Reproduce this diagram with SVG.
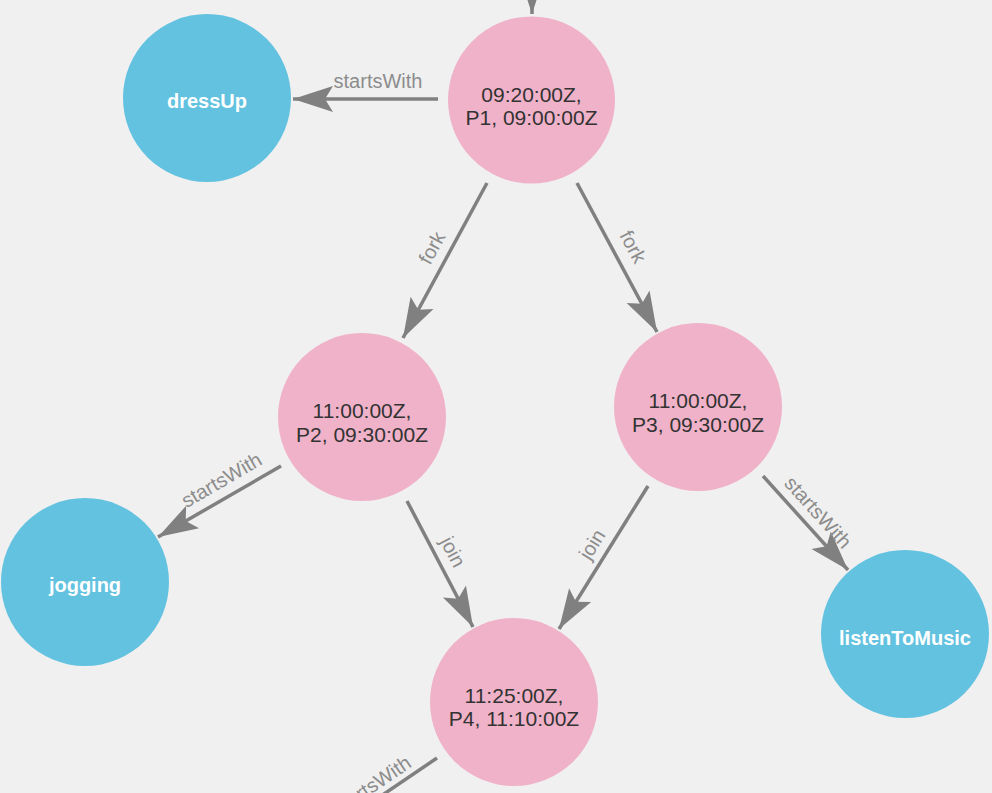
<svg xmlns="http://www.w3.org/2000/svg" width="992" height="793" viewBox="0 0 992 793">
<style>
.bg{fill:#f0f0f0}
.pink{fill:#f0b2c8}
.blue{fill:#62c2e0}
.ptxt{font-family:"Liberation Sans",Arial,sans-serif;font-size:21px;fill:#333333;text-anchor:middle}
.btxt{font-family:"Liberation Sans",Arial,sans-serif;font-size:20px;font-weight:bold;fill:#ffffff;text-anchor:middle}
.edge{stroke:#808080;stroke-width:3.5;fill:none;marker-end:url(#arr)}
.elbl{font-family:"Liberation Sans",Arial,sans-serif;font-size:20px;fill:#8c8c8c;text-anchor:middle}
</style>
<defs>
<marker id="arr" markerUnits="userSpaceOnUse" orient="auto" refX="0" refY="0" markerWidth="50" markerHeight="30" viewBox="-42 -15 44 30" overflow="visible">
<path d="M0,0 L-40,-13 L-32,0 L-40,13 Z" fill="#808080"/>
</marker>
</defs>
<rect class="bg" x="0" y="0" width="992" height="793"/>
<g id="connectors">
<line class="edge" x1="532" y1="-60" x2="532" y2="14"/>
<g id="e-p1-dressUp"><line class="edge" x1="438" y1="99" x2="293" y2="99"/><text class="elbl" x="378" y="88">startsWith</text></g>
<g id="e-p1-p2"><line class="edge" x1="487" y1="183" x2="403" y2="338"/><text class="elbl" transform="translate(438,251) rotate(-61.6)">fork</text></g>
<g id="e-p1-p3"><line class="edge" x1="577" y1="183" x2="657" y2="332"/><text class="elbl" transform="translate(627,250) rotate(61.8)">fork</text></g>
<g id="e-p2-jogging"><line class="edge" x1="281" y1="466" x2="158" y2="537"/><text class="elbl" transform="translate(225,486) rotate(-30)">startsWith</text></g>
<g id="e-p2-p4"><line class="edge" x1="407" y1="501" x2="473" y2="627"/><text class="elbl" transform="translate(447,555) rotate(62.4)">join</text></g>
<g id="e-p3-p4"><line class="edge" x1="648" y1="486" x2="559" y2="629"/><text class="elbl" transform="translate(598,548) rotate(-58.1)">join</text></g>
<g id="e-p3-music"><line class="edge" x1="763" y1="476" x2="848" y2="570"/><text class="elbl" transform="translate(813,517) rotate(47.9)">startsWith</text></g>
<g id="e-p4-out"><line class="edge" x1="437" y1="758" x2="300" y2="851"/><text class="elbl" transform="translate(376,791) rotate(-34.2)">startsWith</text></g>
</g>
<g id="dressUp"><circle class="blue" cx="207" cy="98" r="84"/><text class="btxt" x="207" y="108">dressUp</text></g>
<g id="p1"><circle class="pink" cx="531.5" cy="100" r="83.5"/><text class="ptxt" x="531.5" y="102">09:20:00Z,</text><text class="ptxt" x="531.5" y="125">P1, 09:00:00Z</text></g>
<g id="p2"><circle class="pink" cx="362" cy="417" r="84"/><text class="ptxt" x="362" y="418">11:00:00Z,</text><text class="ptxt" x="362" y="442">P2, 09:30:00Z</text></g>
<g id="p3"><circle class="pink" cx="698" cy="407" r="84"/><text class="ptxt" x="698" y="408">11:00:00Z,</text><text class="ptxt" x="698" y="432">P3, 09:30:00Z</text></g>
<g id="jogging"><circle class="blue" cx="85" cy="582" r="84"/><text class="btxt" x="85" y="592">jogging</text></g>
<g id="p4"><circle class="pink" cx="514" cy="702" r="84"/><text class="ptxt" x="514" y="703">11:25:00Z,</text><text class="ptxt" x="514" y="726">P4, 11:10:00Z</text></g>
<g id="listenToMusic"><circle class="blue" cx="905" cy="634" r="84"/><text class="btxt" x="905" y="645">listenToMusic</text></g>
</svg>
